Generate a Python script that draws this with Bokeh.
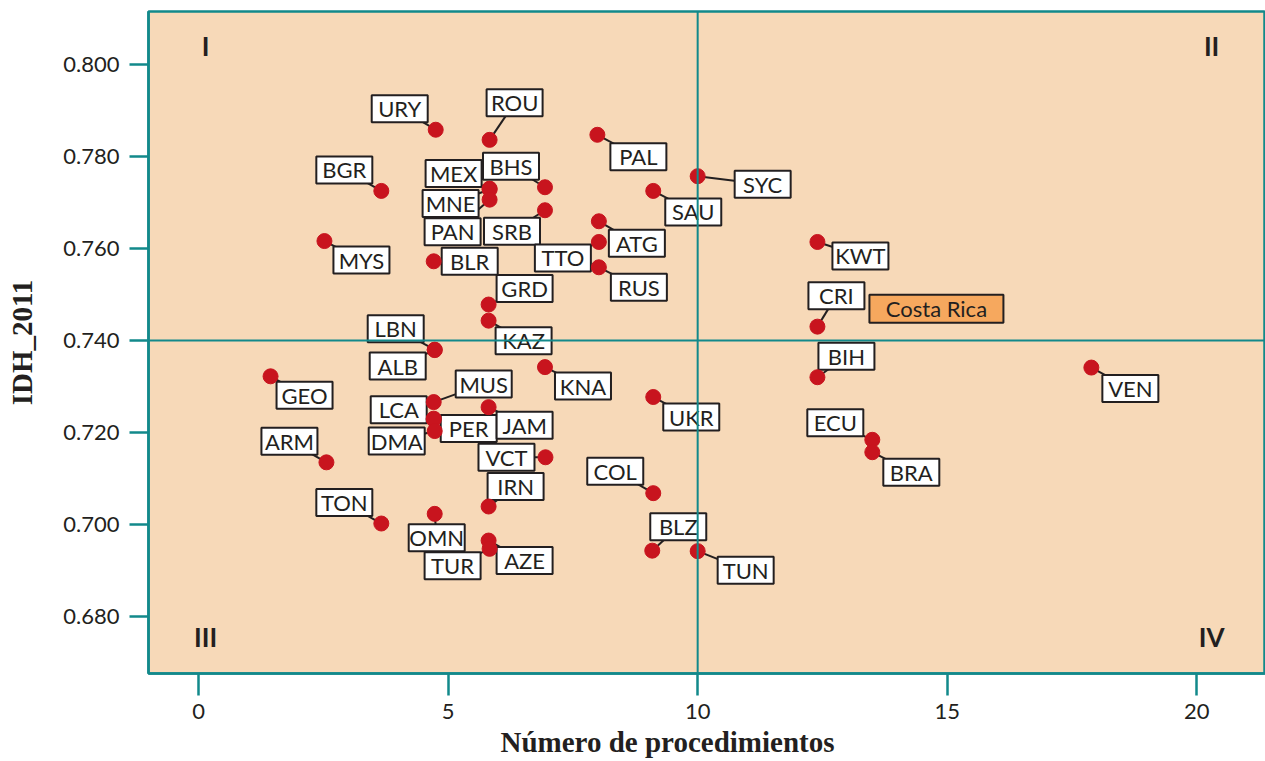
from bokeh.plotting import figure
from bokeh.models import Span, Title, FixedTicker, NumeralTickFormatter, Range1d
from bokeh.embed import file_html
from bokeh.resources import INLINE
from bokeh.core.properties import value

# ---------------- data ----------------
countries = ["URY", "ROU", "BGR", "MEX", "MNE", "PAN", "BHS", "SRB", "MYS", "BLR",
             "TTO", "GRD", "PAL", "SYC", "SAU", "ATG", "RUS", "KWT", "CRI", "LBN",
             "ALB", "KAZ", "BIH", "GEO", "KNA", "VEN", "MUS", "LCA", "PER", "UKR",
             "ECU", "JAM", "ARM", "DMA", "VCT", "COL", "BRA", "IRN", "TON", "BLZ",
             "OMN", "AZE", "TUR", "TUN"]
procedures = [4.75, 5.83, 3.66, 5.83, 5.83, 5.83, 6.94, 6.94, 2.52, 4.71,
              8.02, 5.81, 7.99, 10.0, 9.11, 8.02, 8.02, 12.40, 12.40, 4.73,
              4.73, 5.81, 12.40, 1.44, 6.94, 17.89, 4.71, 4.71, 4.71, 9.11,
              13.50, 5.81, 2.56, 4.73, 6.95, 9.11, 13.50, 5.81, 3.66, 9.09,
              4.73, 5.81, 5.83, 10.0]
idh = [0.7858, 0.7836, 0.7725, 0.7730, 0.7728, 0.7706, 0.7733, 0.7683, 0.7616, 0.7572,
       0.7614, 0.7478, 0.7847, 0.7757, 0.7725, 0.7659, 0.7559, 0.7614, 0.7430, 0.7380,
       0.7379, 0.7443, 0.7320, 0.7322, 0.7342, 0.7341, 0.7266, 0.7230, 0.7228, 0.7277,
       0.7184, 0.7255, 0.7135, 0.7203, 0.7146, 0.7068, 0.7157, 0.7039, 0.7002, 0.6943,
       0.7023, 0.6965, 0.6947, 0.6942]

x_ticks = [0, 5, 10, 15, 20]
y_ticks = [0.680, 0.700, 0.720, 0.740, 0.760, 0.780, 0.800]
x_split = 10
y_split = 0.740
quadrant_names = ["I", "II", "III", "IV"]
quadrant_x = [0.14, 20.3, 0.14, 20.3]
quadrant_y = [0.8041, 0.8041, 0.6755, 0.6755]
highlight_country = "CRI"
highlight_text = "Costa Rica"

# ---------------- layout (pixel offsets of label boxes from their dot) ----------------
label_dx = [-36, 25, -37, -36, -39, -37, -34, -33, 37, 36,
            -36, 36, 41, 65, 40, 38, 40, 43, 19, -39,
            -37, 35, 29, 34, 38, 39, 50, -35, 35, 38,
            -37, 36, -37, -38, -39, -38, 39, 27, -37, 26,
            2, 36, -37, 48]
label_dy = [-21, -37, -21, -15, 14, 32, -21, 21, 19, 0,
            16, -16, 22, 8, 21, 22, 20, 14, -31, -21,
            16, 20, -21, 19, 19, 21, -18, -9, 9, 20,
            -17, 18, -21, 10, 0, -22, 20, -20, -21, -24,
            24, 20, 17, 19]
highlight_dx, highlight_dy = 119, -18

X0, X1 = -1.006, 21.38
Y0, Y1 = 0.6676, 0.8115
FRAME_W, FRAME_H = 1117, 662
PX_X = FRAME_W / (X1 - X0)
PX_Y = FRAME_H / (Y1 - Y0)

TEAL = "#12898b"
INK = "#231f20"
BG = "#f7d9b8"
RED = "#c8141e"
ORANGE = "#f6a85e"
FONT = "Lato"

label_x = [x + dx / PX_X for x, dx in zip(procedures, label_dx)]
label_y = [y - dy / PX_Y for y, dy in zip(idh, label_dy)]

p = figure(width=1265, height=760, output_backend="svg", toolbar_location=None,
           x_range=Range1d(X0, X1), y_range=Range1d(Y0, Y1),
           min_border_left=148, min_border_right=0, min_border_top=11, min_border_bottom=87)
p.background_fill_color = BG
p.border_fill_color = "white"
p.outline_line_color = TEAL
p.outline_line_width = 2.5
p.grid.visible = False

for ax in (p.xaxis, p.yaxis):
    ax.axis_line_color = TEAL
    ax.axis_line_width = 2.5
    ax.major_tick_line_color = TEAL
    ax.major_tick_line_width = 2.5
    ax.major_tick_in = 0
    ax.minor_tick_line_color = None
    ax.major_label_text_font = FONT
    ax.major_label_text_font_size = "22px"
    ax.major_label_text_color = INK

p.xaxis.ticker = FixedTicker(ticks=x_ticks)
p.xaxis.major_tick_out = 22
p.xaxis.major_label_standoff = 8
p.yaxis.ticker = FixedTicker(ticks=y_ticks)
p.yaxis.formatter = NumeralTickFormatter(format="0.000")
p.yaxis.major_tick_out = 19
p.yaxis.major_label_standoff = 10
p.yaxis.axis_label = "IDH_2011"
p.yaxis.axis_label_text_font = "Liberation Serif"
p.yaxis.axis_label_text_font_style = "bold"
p.yaxis.axis_label_text_font_size = "29px"
p.yaxis.axis_label_text_color = INK
p.yaxis.axis_label_standoff = 22

p.add_layout(Title(text="Número de procedimientos", align="left", offset=352,
                   text_font="Liberation Serif", text_font_size="29px",
                   text_font_style="bold", text_color=INK, standoff=4), "below")

# leader lines
p.segment(x0=procedures, y0=idh, x1=label_x, y1=label_y, line_color=INK, line_width=2)
# label boxes
p.rect(x=label_x, y=label_y, width=56, height=27, width_units="screen", height_units="screen",
       fill_color="white", line_color=INK, line_width=2)
p.text(x=label_x, y=label_y, text=countries, text_align="center", text_baseline="middle",
       text_font=value(FONT), text_font_size="22px", text_color=INK)

# highlighted country box
hi = countries.index(highlight_country)
hx = procedures[hi] + highlight_dx / PX_X
hy = idh[hi] - highlight_dy / PX_Y
p.rect(x=[hx], y=[hy], width=134, height=28, width_units="screen", height_units="screen",
       fill_color=ORANGE, line_color=INK, line_width=2)
p.text(x=[hx], y=[hy], text=[highlight_text], text_align="center", text_baseline="middle",
       text_font=value(FONT), text_font_size="22px", text_color=INK)

# dots
p.scatter(x=procedures, y=idh, size=15, fill_color=RED, line_color=RED)

# quadrant names
p.text(x=quadrant_x, y=quadrant_y, text=quadrant_names, text_align="center",
       text_baseline="middle", text_font=value(FONT), text_font_size="26px",
       text_font_style="bold", text_color=INK)

p.add_layout(Span(location=x_split, dimension="height", line_color=TEAL, line_width=2))
p.add_layout(Span(location=y_split, dimension="width", line_color=TEAL, line_width=2))

open("out.html", "w").write(file_html(p, INLINE))
